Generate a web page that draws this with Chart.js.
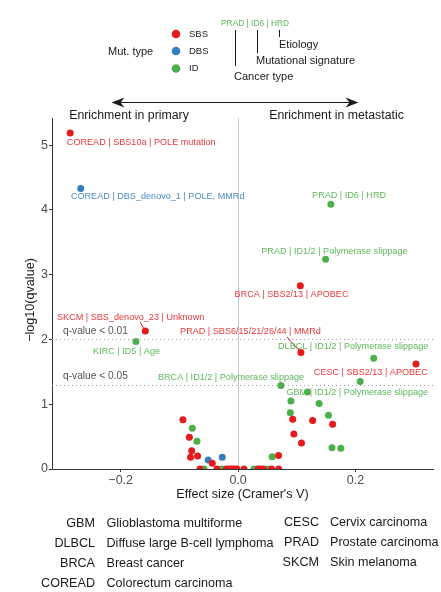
<!DOCTYPE html>
<html>
<head>
<meta charset="utf-8">
<script src="https://cdn.jsdelivr.net/npm/chart.js@4.4.0/dist/chart.umd.min.js"></script>
<style>
  html, body { margin: 0; padding: 0; background: #fff; }
  #myChart { display: block; }
</style>
</head>
<body>
<canvas id="myChart" width="441" height="592"></canvas>
<script>
// effect size (Cramer's V) and -log10(qvalue), per mutation type
const sbsEffect = [-0.286, 0.106, 0.107, 0.303, -0.158,
  0.093, 0.127, 0.161, 0.095, 0.108, 0.069,
  -0.094, -0.083, -0.079, -0.081, -0.069, -0.044,
  -0.065, -0.036, -0.020, -0.015, -0.011, -0.007, -0.002, 0.010, 0.034, 0.037, 0.043, 0.057, 0.069];
const sbsLogQ = [5.19, 2.83, 1.80, 1.62, 2.13,
  0.77, 0.75, 0.69, 0.54, 0.40, 0.21,
  0.76, 0.49, 0.28, 0.18, 0.20, 0.09,
  0, 0, 0, 0, 0, 0, 0, 0, 0, 0, 0, 0, 0];

const dbsEffect = [-0.268, -0.051, -0.027];
const dbsLogQ = [4.33, 0.14, 0.18];

const idEffect = [0.158, 0.149, 0.231, 0.073, 0.118, -0.174,
  0.208, 0.090, 0.138, 0.089, 0.154, 0.160, 0.175, 0.058, -0.078, -0.070,
  -0.058, -0.028, 0.027, 0.050];
const idLogQ = [4.09, 3.24, 1.71, 1.29, 1.19, 1.97,
  1.35, 1.05, 1.01, 0.87, 0.83, 0.33, 0.32, 0.19, 0.63, 0.43,
  0, 0, 0, 0];

const xTicks = [-0.2, 0, 0.2];
const yTicks = [0, 1, 2, 3, 4, 5];

// point labels: text, type, label centre (data units), optional leader start/end
const pointLabels = [
  ["COREAD | SBS10a | POLE mutation", "SBS", -0.165, 5.04],
  ["COREAD | DBS_denovo_1 | POLE, MMRd", "DBS", -0.137, 4.21],
  ["PRAD | ID6 | HRD", "ID", 0.189, 4.22],
  ["PRAD | ID1/2 | Polymerase slippage", "ID", 0.164, 3.36],
  ["BRCA | SBS2/13 | APOBEC", "SBS", 0.091, 2.69],
  ["PRAD | SBS6/15/21/26/44 | MMRd", "SBS", 0.021, 2.12, [0.083, 2.04, 0.107, 1.80]],
  ["DLBCL | ID1/2 | Polymerase slippage", "ID", 0.196, 1.89],
  ["CESC | SBS2/13 | APOBEC", "SBS", 0.226, 1.49],
  ["BRCA | ID1/2 | Polymerase slippage", "ID", -0.012, 1.42],
  ["GBM | ID1/2 | Polymerase slippage", "ID", 0.203, 1.18],
  ["SKCM | SBS_denovo_23 | Unknown", "SBS", -0.183, 2.34, [-0.167, 2.27, -0.158, 2.13]],
  ["KIRC | ID5 | Age", "ID", -0.190, 1.82]
];

const qCutoffs = [["q-value < 0.01", 0.01], ["q-value < 0.05", 0.05]];

const glossaryLeft = [["GBM", "Glioblastoma multiforme"], ["DLBCL", "Diffuse large B-cell lymphoma"],
  ["BRCA", "Breast cancer"], ["COREAD", "Colorectum carcinoma"]];
const glossaryRight = [["CESC", "Cervix carcinoma"], ["PRAD", "Prostate carcinoma"], ["SKCM", "Skin melanoma"]];

const colors = { SBS: "#E41A1C", DBS: "#377EB8", ID: "#4DAF4A" };
const textColors = { SBS: "#E8383A", DBS: "#4A8BC2", ID: "#5DB85A" };
const FONT = "'Liberation Sans', Arial, sans-serif";

const toPoints = (xs, ys) => xs.map((x, i) => ({ x: x, y: ys[i] }));

const decor = {
  id: "decor",
  beforeDatasetsDraw(chart) {
    const { ctx, chartArea: a, scales: { x, y } } = chart;
    ctx.save();
    // zero line
    ctx.strokeStyle = "#c8c8c8";
    ctx.lineWidth = 1;
    ctx.beginPath();
    ctx.moveTo(Math.round(x.getPixelForValue(0)) + 0.5, a.top);
    ctx.lineTo(Math.round(x.getPixelForValue(0)) + 0.5, a.bottom);
    ctx.stroke();
    // q-value cutoffs
    ctx.strokeStyle = "#9a9a9a";
    ctx.setLineDash([1, 3]);
    qCutoffs.forEach(([txt, q]) => {
      const py = Math.round(y.getPixelForValue(-Math.log10(q))) + 0.5;
      ctx.beginPath();
      ctx.moveTo(a.left, py);
      ctx.lineTo(a.right, py);
      ctx.stroke();
    });
    ctx.setLineDash([]);
    ctx.font = "10.2px " + FONT;
    ctx.fillStyle = "#555";
    ctx.textAlign = "left";
    ctx.textBaseline = "bottom";
    qCutoffs.forEach(([txt, q]) => {
      const py = y.getPixelForValue(-Math.log10(q));
      ctx.fillText(txt, a.left + 11, py - 3);
    });
    // leader lines
    pointLabels.forEach(l => {
      if (!l[4]) return;
      ctx.strokeStyle = colors[l[1]];
      ctx.beginPath();
      ctx.moveTo(x.getPixelForValue(l[4][0]), y.getPixelForValue(l[4][1]));
      ctx.lineTo(x.getPixelForValue(l[4][2]), y.getPixelForValue(l[4][3]));
      ctx.stroke();
    });
    ctx.restore();
  },
  afterDatasetsDraw(chart) {
    const { ctx, scales: { x, y } } = chart;
    ctx.save();
    ctx.font = "9.1px " + FONT;
    ctx.textAlign = "center";
    ctx.textBaseline = "middle";
    pointLabels.forEach(l => {
      ctx.fillStyle = textColors[l[1]];
      ctx.fillText(l[0], x.getPixelForValue(l[2]), y.getPixelForValue(l[3]));
    });
    ctx.restore();
  },
  afterDraw(chart) {
    const { ctx, chartArea: a } = chart;
    ctx.save();
    ctx.fillStyle = "#1a1a1a";
    ctx.textBaseline = "middle";
    // axis titles
    ctx.font = "12.6px " + FONT;
    ctx.textAlign = "center";
    ctx.fillText("Effect size (Cramer's V)", (a.left + a.right) / 2, 495);
    ctx.save();
    ctx.translate(31, 300);
    ctx.rotate(-Math.PI / 2);
    ctx.fillText("\u2212log10(qvalue)", 0, 0);
    ctx.restore();

    // legend
    ctx.font = "11px " + FONT;
    ctx.textAlign = "left";
    ctx.fillText("Mut. type", 108, 52);
    ctx.font = "9.5px " + FONT;
    [["SBS", 34], ["DBS", 51], ["ID", 68.5]].forEach(([k, py]) => {
      ctx.fillStyle = colors[k];
      ctx.beginPath();
      ctx.arc(176, py, 4.3, 0, Math.PI * 2);
      ctx.fill();
      ctx.fillStyle = "#1a1a1a";
      ctx.fillText(k, 189, py);
    });
    ctx.fillStyle = textColors.ID;
    ctx.font = "8.4px " + FONT;
    ctx.fillText("PRAD | ID6 | HRD", 221, 23.5);
    ctx.strokeStyle = "#1a1a1a";
    ctx.lineWidth = 1;
    [[235.5, 66], [257.5, 53], [279.5, 37]].forEach(([px, py]) => {
      ctx.beginPath();
      ctx.moveTo(px, 30);
      ctx.lineTo(px, py);
      ctx.stroke();
    });
    ctx.fillStyle = "#1a1a1a";
    ctx.font = "11px " + FONT;
    ctx.fillText("Etiology", 279, 44.5);
    ctx.fillText("Mutational signature", 256, 61);
    ctx.fillText("Cancer type", 234, 76.5);

    // direction arrow
    ctx.lineWidth = 1.2;
    ctx.beginPath();
    ctx.moveTo(115, 102.5);
    ctx.lineTo(355, 102.5);
    ctx.stroke();
    const head = (tip, dir) => {
      ctx.beginPath();
      ctx.moveTo(tip, 102.5);
      ctx.lineTo(tip - dir * 13, 97.5);
      ctx.lineTo(tip - dir * 9, 102.5);
      ctx.lineTo(tip - dir * 13, 107.5);
      ctx.closePath();
      ctx.fill();
    };
    head(111.5, -1);
    head(358.5, 1);
    ctx.font = "12.3px " + FONT;
    ctx.textAlign = "center";
    ctx.fillText("Enrichment in primary", 129, 116);
    ctx.fillText("Enrichment in metastatic", 336.5, 116);

    // glossary
    ctx.font = "12.6px " + FONT;
    glossaryLeft.forEach(([ab, name], i) => {
      const py = 524 + i * 19.7;
      ctx.textAlign = "right";
      ctx.fillText(ab, 95, py);
      ctx.textAlign = "left";
      ctx.fillText(name, 106.5, py);
    });
    glossaryRight.forEach(([ab, name], i) => {
      const py = 523 + i * 19.7;
      ctx.textAlign = "right";
      ctx.fillText(ab, 319, py);
      ctx.textAlign = "left";
      ctx.fillText(name, 330, py);
    });
    ctx.restore();
  }
};

const axisCommon = {
  type: "linear",
  grid: { display: true, drawOnChartArea: false, drawTicks: true, tickLength: 3, color: "#333" },
  border: { display: true, color: "#333", width: 1 },
  ticks: { color: "#4D4D4D", font: { family: FONT, size: 12.5 }, padding: 1 }
};

const ctx = document.getElementById("myChart").getContext("2d");
const myChart = new Chart(ctx, {
  type: "scatter",
  data: {
    datasets: [
      { label: "SBS", data: toPoints(sbsEffect, sbsLogQ), backgroundColor: colors.SBS },
      { label: "DBS", data: toPoints(dbsEffect, dbsLogQ), backgroundColor: colors.DBS },
      { label: "ID", data: toPoints(idEffect, idLogQ), backgroundColor: colors.ID }
    ]
  },
  options: {
    responsive: false,
    animation: false,
    events: [],
    layout: { padding: { top: 118, right: 8, bottom: 88, left: 0 } },
    elements: { point: { radius: 3.5, borderWidth: 0, hoverRadius: 3.5 } },
    plugins: { legend: { display: false }, tooltip: { enabled: false } },
    scales: {
      x: Object.assign({}, axisCommon, {
        min: -0.317, max: 0.332,
        afterBuildTicks: s => { s.ticks = xTicks.map(v => ({ value: v })); },
        afterFit: s => { s.height = 35; },
        ticks: Object.assign({}, axisCommon.ticks, {
          callback: v => (v < 0 ? "\u2212" : "") + Math.abs(v).toFixed(1)
        })
      }),
      y: Object.assign({}, axisCommon, {
        min: 0, max: 5.42,
        afterBuildTicks: s => { s.ticks = yTicks.map(v => ({ value: v })); },
        afterFit: s => { s.width = 52; }
      })
    }
  },
  plugins: [decor]
});
</script>
</body>
</html>
